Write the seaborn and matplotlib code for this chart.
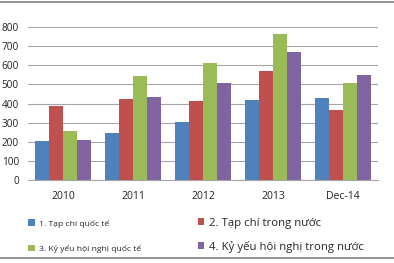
import matplotlib
matplotlib.use("Agg")
import matplotlib.pyplot as plt
import seaborn as sns
import pandas as pd
from matplotlib.patches import Patch
from matplotlib.lines import Line2D

categories = ["2010", "2011", "2012", "2013", "Dec-14"]
series = ["1. Tạp chí quốc tế", "2. Tạp chí trong nước",
          "3. Kỷ yếu hội nghị quốc tế", "4. Kỷ yếu hội nghị trong nước"]
s1 = [205, 245, 305, 420, 430]
s2 = [385, 425, 415, 570, 365]
s3 = [255, 545, 610, 765, 505]
s4 = [210, 435, 505, 670, 550]
colors = ["#4F81BD", "#C0504D", "#9BBB59", "#8064A2"]
yticks = [0, 100, 200, 300, 400, 500, 600, 700, 800]

rows = []
for name, vals in zip(series, [s1, s2, s3, s4]):
    for c, v in zip(categories, vals):
        rows.append({"cat": c, "series": name, "value": v})
df = pd.DataFrame(rows)

sns.set_style("white")
plt.rcParams["font.family"] = ["Open Sans", "DejaVu Sans"]

W, H = 394, 263
fig = plt.figure(figsize=(W / 100, H / 100), dpi=100)
ax = fig.add_axes([28 / W, 1 - 180 / H, 350 / W, (180 - 27) / H])

sns.barplot(data=df, x="cat", y="value", hue="series", order=categories,
            hue_order=series, palette=colors, width=0.8, saturation=1,
            ax=ax, legend=False, linewidth=0)

ax.set_ylim(0, 800)
ax.set_xlim(-0.5, 4.5)
ax.set_yticks(yticks)
ax.set_xlabel("")
ax.set_ylabel("")
ax.yaxis.grid(True, color="#A6A6A6", linewidth=0.8)
ax.set_axisbelow(True)
for sp in ["top", "right", "left"]:
    ax.spines[sp].set_visible(False)
ax.spines["bottom"].set_color("#A6A6A6")
ax.tick_params(axis="x", length=0, pad=8, labelsize=7.5, colors="#222222")
ax.tick_params(axis="y", length=0, pad=6.5, labelsize=7.2, colors="#222222")

# legends: left column small, right column larger
h = [Patch(facecolor=c, edgecolor="none") for c in colors]
leg1 = fig.legend([h[0], h[2]], [series[0], series[2]], loc="upper left",
                  bbox_to_anchor=(25 / W, 1 - 216 / H), frameon=False,
                  fontsize=6.1, handlelength=0.8, handleheight=0.8,
                  handletextpad=0.4, labelspacing=2.05, borderaxespad=0)
leg2 = fig.legend([h[1], h[3]], [series[1], series[3]], loc="upper left",
                  bbox_to_anchor=(193 / W, 1 - 213 / H), frameon=False,
                  fontsize=8.2, handlelength=0.6, handleheight=0.6,
                  handletextpad=0.4, labelspacing=1.05, borderaxespad=0)

# thin border lines
fig.add_artist(Line2D([0, 1], [1 - 1.5 / H, 1 - 1.5 / H], color="#808080", lw=1.2,
                      transform=fig.transFigure))
fig.add_artist(Line2D([0, 1], [1 - 258 / H, 1 - 258 / H], color="#808080", lw=1.2,
                      transform=fig.transFigure))

fig.savefig("out.png", dpi=100, facecolor="white")
